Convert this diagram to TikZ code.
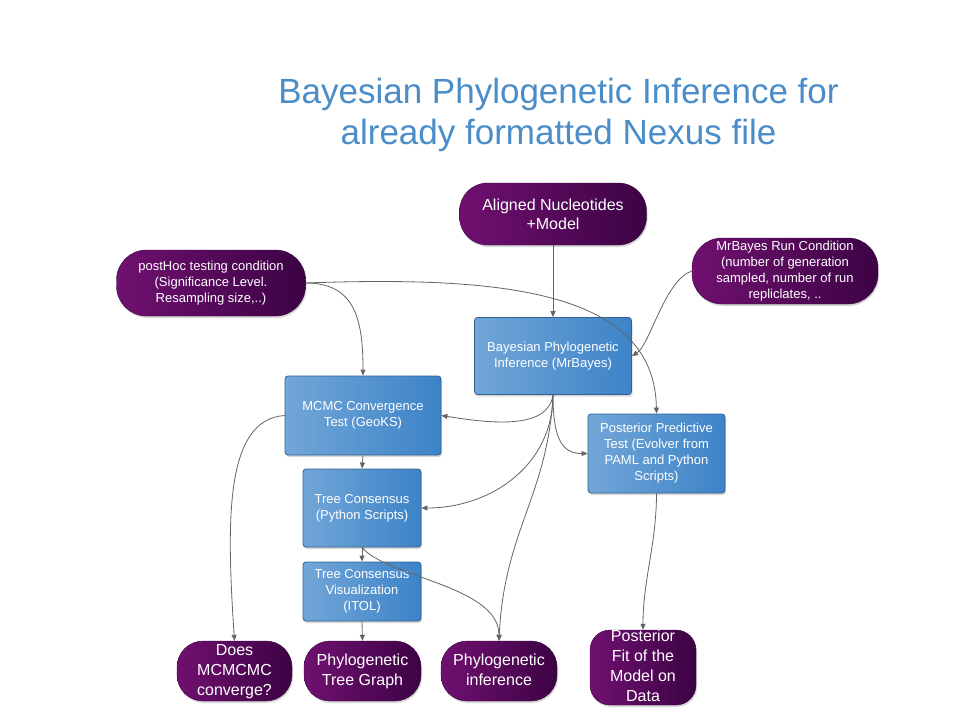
\documentclass[tikz,border=0pt]{standalone}
\usepackage{fontspec}
\setmainfont{Liberation Sans}
\usetikzlibrary{calc,shadows,arrows.meta}
\definecolor{titleblue}{RGB}{74,141,201}
\definecolor{pl}{RGB}{112,16,112}
\definecolor{pr}{RGB}{60,3,68}
\definecolor{bl}{RGB}{114,166,216}
\definecolor{br}{RGB}{60,131,199}
\definecolor{bborder}{RGB}{50,98,148}
\definecolor{edgegray}{RGB}{100,100,100}
\begin{document}
\begin{tikzpicture}[x=1pt,y=-1pt,
  pill/.style={rectangle, rounded corners=28pt, left color=pl, right color=pr,
    draw=pr, line width=0.4pt, text=white, align=center, inner sep=0pt,
    drop shadow={opacity=0.3,shadow xshift=1pt,shadow yshift=-2pt}},
  bluebox/.style={rectangle, rounded corners=3pt, left color=bl, right color=br,
    draw=bborder, line width=0.8pt, text=white, align=center, inner sep=0pt,
    drop shadow={opacity=0.3,shadow xshift=1pt,shadow yshift=-2pt},
    font=\fontsize{13}{16}\selectfont},
  big/.style={font=\fontsize{16}{20}\selectfont, text depth=3pt},
  small/.style={font=\fontsize{13}{16}\selectfont},
  ed/.style={draw=edgegray, line width=0.8pt, -{Triangle[length=6pt,width=5pt]}}
]
\useasboundingbox[fill=white] (0,0) rectangle (960,720);

\node[text=titleblue, align=center, font=\fontsize{35}{41}\selectfont] (title) at (558.5,115)
  {Bayesian Phylogenetic Inference for\\already formatted Nexus file};

% purple inputs
\node[pill, font=\fontsize{16}{19}\selectfont, minimum width=187pt, minimum height=62pt] (al) at (553,214)
  {Aligned Nucleotides\\+Model};
\node[pill, small, minimum width=186pt, minimum height=66pt, rounded corners=30pt] (mrb) at (785,271)
  {MrBayes Run Condition\\(number of generation\\sampled, number of run\\repliclates, ..};
\node[pill, small, minimum width=189pt, minimum height=66pt, rounded corners=30pt] (ph) at (211,283)
  {postHoc testing condition\\(Significance Level.\\Resampling size,..)};

% blue process boxes
\node[bluebox, minimum width=157pt, minimum height=77pt] (bay) at (553,356)
  {Bayesian Phylogenetic\\Inference (MrBayes)};
\node[bluebox, minimum width=156pt, minimum height=79pt] (mcmc) at (363,415.5)
  {MCMC Convergence\\Test (GeoKS)};
\node[bluebox, minimum width=118pt, minimum height=78pt] (tc) at (362,508)
  {Tree Consensus\\(Python Scripts)};
\node[bluebox, minimum width=118pt, minimum height=59pt] (tcv) at (362,591.5)
  {Tree Consensus\\Visualization\\(ITOL)};
\node[bluebox, minimum width=137pt, minimum height=79pt] (pp) at (656.5,453.5)
  {Posterior Predictive\\Test (Evolver from\\PAML and Python\\Scripts)};

% purple outputs
\node[pill, big, minimum width=115pt, minimum height=60pt, rounded corners=26pt] (does) at (234.5,671)
  {Does\\MCMCMC\\converge?};
\node[pill, big, minimum width=117pt, minimum height=60pt, rounded corners=26pt] (ptg) at (362.5,671)
  {Phylogenetic\\Tree Graph};
\node[pill, big, minimum width=116pt, minimum height=60pt, rounded corners=26pt] (phinf) at (499,671)
  {Phylogenetic\\inference};
\node[pill, big, minimum width=106pt, minimum height=75pt, rounded corners=20pt] (pf) at (643,667.5)
  {Posterior\\Fit of the\\Model on\\Data};

% connectors
\draw[ed] (al.south) -- (bay.north);
\draw[ed] (mrb.west) .. controls ($(mrb.west)+(-27,9)$) and ($(bay.east)+(18,-11)$) .. (bay.east);
\draw[ed] (ph.east) .. controls ($(ph.east)+(50,0)$) and ($(mcmc.north)+(0,-55)$) .. (mcmc.north);
\draw[ed] (ph.east) .. controls ($(ph.east)+(194,-7)$) and ($(pp.north)+(-2,-124)$) .. (pp.north);
\draw[ed] (bay.south) .. controls ($(bay.south)+(-5,35)$) and ($(mcmc.east)+(50,8)$) .. (mcmc.east);
\draw[ed] (bay.south) .. controls ($(bay.south)+(0,70)$) and ($(tc.east)+(70,0)$) .. (tc.east);
\draw[ed] (bay.south) .. controls ($(bay.south)+(0,45)$) and ($(pp.west)+(-25,0)$) .. (pp.west);
\draw[ed] (bay.south) .. controls ($(bay.south)+(-5,100)$) and ($(phinf.north)+(5,-110)$) .. (phinf.north);
\draw[ed] (mcmc.south) -- (tc.north);
\draw[ed] (tc.south) -- (tcv.north);
\draw[ed] (tc.south) .. controls ($(tc.south)+(25,30)$) and ($(phinf.north)+(0,-55)$) .. (phinf.north);
\draw[ed] (tcv.south) -- (ptg.north);
\draw[ed] (mcmc.west) .. controls ($(mcmc.west)+(-60,4)$) and ($(does.north)+(-8,-120)$) .. (does.north);
\draw[ed] (pp.south) .. controls ($(pp.south)+(0,50)$) and ($(pf.north)+(0,-50)$) .. (pf.north);
\end{tikzpicture}
\end{document}
